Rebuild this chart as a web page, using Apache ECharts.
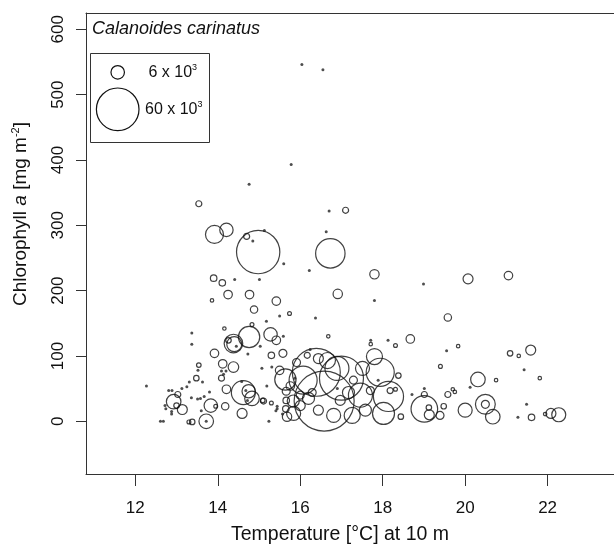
<!DOCTYPE html>
<html>
<head>
<meta charset="utf-8">
<script src="https://cdn.jsdelivr.net/npm/echarts@6/dist/echarts.min.js"></script>
<style>
  html, body { margin: 0; padding: 0; background: #fff; }
  #main { width: 614px; height: 547px; }
</style>
</head>
<body>
<div id="main"></div>
<script>
// [temperature °C, chlorophyll a mg m-2, abundance x 10^3]
var circles = [
  [13.54, 333, 1.2], [13.92, 286, 10.7], [14.21, 293, 5.9], [14.98, 259, 62], [14.70, 283, 1.2],
  [13.90, 219, 1.4], [14.11, 212, 1.4], [14.25, 194, 2.4], [14.77, 194, 2.4], [15.42, 184, 2.4],
  [16.73, 257, 28.6], [16.91, 195, 2.9], [13.86, 185, 0.4], [14.88, 171, 1.8], [15.74, 165, 0.5],
  [14.16, 142, 0.4], [14.83, 148, 0.5], [14.76, 129, 15], [15.28, 133, 5.9], [15.42, 124, 2.4],
  [14.38, 119, 11.4], [14.40, 118, 7.4], [14.26, 124, 1], [13.92, 104, 2.4], [15.30, 101, 1.4],
  [15.58, 104, 2.1], [16.68, 130, 0.4], [17.10, 323, 1.2], [17.80, 225, 2.9], [20.07, 218, 3.3],
  [21.05, 223, 2.4], [19.58, 159, 1.8], [17.71, 118, 0.4], [18.31, 116, 0.5], [18.67, 126, 2.4],
  [19.83, 115, 0.4], [21.09, 104, 1], [21.30, 100, 0.4], [21.59, 109, 3.3], [21.81, 66, 0.4],
  [19.40, 84, 0.5], [20.31, 64, 7], [20.75, 63, 0.4], [19.58, 41, 1.2], [19.70, 49, 0.4],
  [19.75, 45, 0.4], [19.48, 23, 1], [19.39, 9, 2.1], [20.00, 17, 6.5], [20.49, 26, 13],
  [20.49, 26, 2.1], [20.67, 7, 7], [21.61, 6, 1.4], [21.94, 11, 0.4], [22.08, 12, 3.3],
  [22.27, 10, 6.5], [18.38, 70, 1], [19.01, 19, 23.4], [19.01, 41, 1.2], [19.13, 10, 3.3],
  [19.12, 21, 1], [18.44, 7, 1],
  [13.54, 86, 0.7], [13.48, 66, 1], [12.93, 30, 7], [13.03, 41, 1.2], [13.14, 18, 3.3],
  [13.00, 24, 1], [13.83, 24, 5.9], [13.95, 23, 0.5], [13.72, 0, 7], [13.30, -1, 0.5],
  [13.38, -1, 1], [14.12, 88, 2.4], [14.38, 83, 3.7], [14.09, 66, 1.2], [14.21, 49, 2.4],
  [14.62, 44, 19], [14.75, 46, 5.9], [14.83, 35, 7], [14.18, 23, 1.8], [14.59, 12, 3.3],
  [15.11, 31, 1.2], [15.30, 28, 0.5], [15.50, 78, 2.4], [15.64, 64, 15], [15.66, 46, 2.1],
  [15.76, 54, 2.4], [15.65, 19, 1.4], [15.66, 32, 1.4], [15.68, 7, 2.9], [15.84, 12, 6.5],
  [15.09, 32, 0.7], [16.17, 101, 1.2], [15.91, 90, 2.1],
  [16.39, 75, 76], [17.00, 66, 64], [16.58, 31, 119], [16.07, 63, 26], [16.89, 81, 19],
  [16.81, 9, 6.5], [15.83, 31, 4.8], [16.20, 35, 4.8], [16.44, 17, 3.3], [17.80, 99, 8.5],
  [17.94, 75, 26], [17.46, 40, 19], [18.14, 38, 30], [18.02, 12, 16], [17.70, 47, 2.1],
  [18.18, 47, 1.2], [18.31, 49, 0.5], [16.97, 32, 3.3], [17.17, 44, 4.8], [16.00, 24, 3.3],
  [16.29, 44, 2.1], [17.26, 9, 8.5], [17.58, 17, 4.8], [16.66, 93, 8.5], [16.44, 96, 3.3],
  [16.00, 40, 2.1], [17.29, 63, 2.1], [17.51, 81, 6.5]
];

// stations with (almost) no animals: [temperature, chlorophyll a]
var dots = [
  [16.04, 546], [16.55, 538], [15.78, 393], [14.76, 363], [15.13, 292], [14.85, 276],
  [15.60, 241], [16.22, 231], [14.41, 217], [15.01, 217], [16.70, 322], [16.63, 290],
  [15.18, 153], [15.50, 161], [16.37, 158], [13.37, 135], [13.37, 118], [14.73, 103],
  [15.03, 115], [15.59, 130], [17.80, 185], [18.99, 210], [17.71, 124], [18.13, 124],
  [19.55, 108], [21.43, 79], [20.12, 52], [21.49, 26], [21.28, 6], [19.01, 50],
  [18.71, 41], [13.52, 78], [13.63, 60], [12.27, 54], [13.31, 60], [13.25, 53],
  [13.13, 50], [12.81, 47], [12.89, 47], [12.74, 19], [12.72, 24], [12.88, 11],
  [12.88, 15], [12.61, 0], [12.68, 0], [13.36, 36], [13.51, 34], [13.58, 35],
  [13.67, 38], [13.80, 45], [13.60, 16], [13.72, 0], [14.09, 77], [14.20, 77],
  [14.14, 72], [14.45, 115], [14.58, 61], [14.68, 47], [14.72, 32], [15.24, 0],
  [15.19, 54], [15.07, 81], [15.31, 83], [15.44, 19], [15.44, 23], [15.41, 16],
  [15.57, 11], [16.24, 110], [15.87, 66], [16.90, 50], [17.89, 63]
];

var xTicks = [12, 14, 16, 18, 20, 22];
var yTicks = [0, 100, 200, 300, 400, 500, 600];
var legendValues = [6, 60];
var legendLabels = ['6 x 10', '60 x 10'];

var sizeScale = 5.5;
function bubbleSize(v) { return sizeScale * Math.sqrt(v); }

var ink = '#111';
var frame = '#333';
var font = 'Liberation Sans, Arial, sans-serif';

var chart = echarts.init(document.getElementById('main'));

var legendGraphics = [
  { type: 'rect', shape: { x: 90.5, y: 53.5, width: 119, height: 89 },
    style: { fill: 'none', stroke: frame, lineWidth: 1 }, z: 10 }
];
var legendCy = [72.3, 109.3];
legendValues.forEach(function (v, i) {
  legendGraphics.push({
    type: 'circle', shape: { cx: 117.7, cy: legendCy[i], r: bubbleSize(v) / 2 },
    style: { fill: 'none', stroke: ink, lineWidth: 1.2 }, z: 10
  });
  legendGraphics.push({
    type: 'text', x: i === 0 ? 148.5 : 145, y: legendCy[i], z: 10,
    style: {
      text: '{n|' + legendLabels[i] + '}{s|3}',
      fill: ink, align: 'left', verticalAlign: 'middle',
      rich: {
        n: { fontSize: 16, fontFamily: font, fill: ink, lineHeight: 18 },
        s: { fontSize: 9, fontFamily: font, fill: ink, verticalAlign: 'top', lineHeight: 18 }
      }
    }
  });
});

chart.setOption({
  animation: false,
  backgroundColor: '#fff',
  grid: { left: 86, top: 13, right: 0, bottom: 73 },
  xAxis: [{
    type: 'value', min: 10.804, max: 23.61,
    axisLine: { show: true, onZero: false, lineStyle: { color: frame, width: 1 } },
    splitLine: { show: false },
    axisTick: { show: true, length: 12, lineStyle: { color: frame }, customValues: xTicks },
    axisLabel: { customValues: xTicks, fontSize: 17, fontFamily: font, color: ink, margin: 26 }
  }, {
    type: 'value', position: 'top', min: 10.804, max: 23.61,
    axisLine: { show: true, onZero: false, lineStyle: { color: frame, width: 1 } },
    splitLine: { show: false }, axisTick: { show: false }, axisLabel: { show: false }
  }],
  yAxis: {
    type: 'value', min: -80.7, max: 625,
    axisLine: { show: true, onZero: false, lineStyle: { color: frame, width: 1 } },
    splitLine: { show: false },
    axisTick: { show: true, length: 10, lineStyle: { color: frame }, customValues: yTicks },
    axisLabel: { customValues: yTicks, rotate: 90, fontSize: 17, fontFamily: font, color: ink, margin: 19 }
  },
  series: [
    {
      type: 'scatter', data: circles, symbol: 'circle',
      symbolSize: function (d) { return bubbleSize(d[2]); },
      itemStyle: { color: 'transparent', borderColor: ink, borderWidth: 1.2 },
      emphasis: { disabled: true }, silent: true
    },
    {
      type: 'scatter', data: dots, symbol: 'circle', symbolSize: 3,
      itemStyle: { color: '#222' },
      emphasis: { disabled: true }, silent: true
    }
  ],
  graphic: [
    { type: 'text', x: 92, y: 29, style: { text: 'Calanoides carinatus', fontSize: 18, fontStyle: 'italic', fontFamily: font, fill: ink, align: 'left', verticalAlign: 'middle' } },
    { type: 'text', x: 340, y: 535, style: { text: 'Temperature [°C] at 10 m', fontSize: 19.5, fontFamily: font, fill: ink, align: 'center', verticalAlign: 'middle' } },
    { type: 'text', x: 21, y: 214, rotation: Math.PI / 2,
      style: {
        text: '{n|Chlorophyll }{i|a}{n| [mg m}{s|-2}{n|]}',
        align: 'center', verticalAlign: 'middle', fill: ink,
        rich: {
          n: { fontSize: 19, fontFamily: font, fill: ink, lineHeight: 22 },
          i: { fontSize: 19, fontFamily: font, fontStyle: 'italic', fill: ink, lineHeight: 22 },
          s: { fontSize: 11, fontFamily: font, fill: ink, verticalAlign: 'top', lineHeight: 22 }
        }
      } }
  ].concat(legendGraphics)
});
</script>
</body>
</html>
